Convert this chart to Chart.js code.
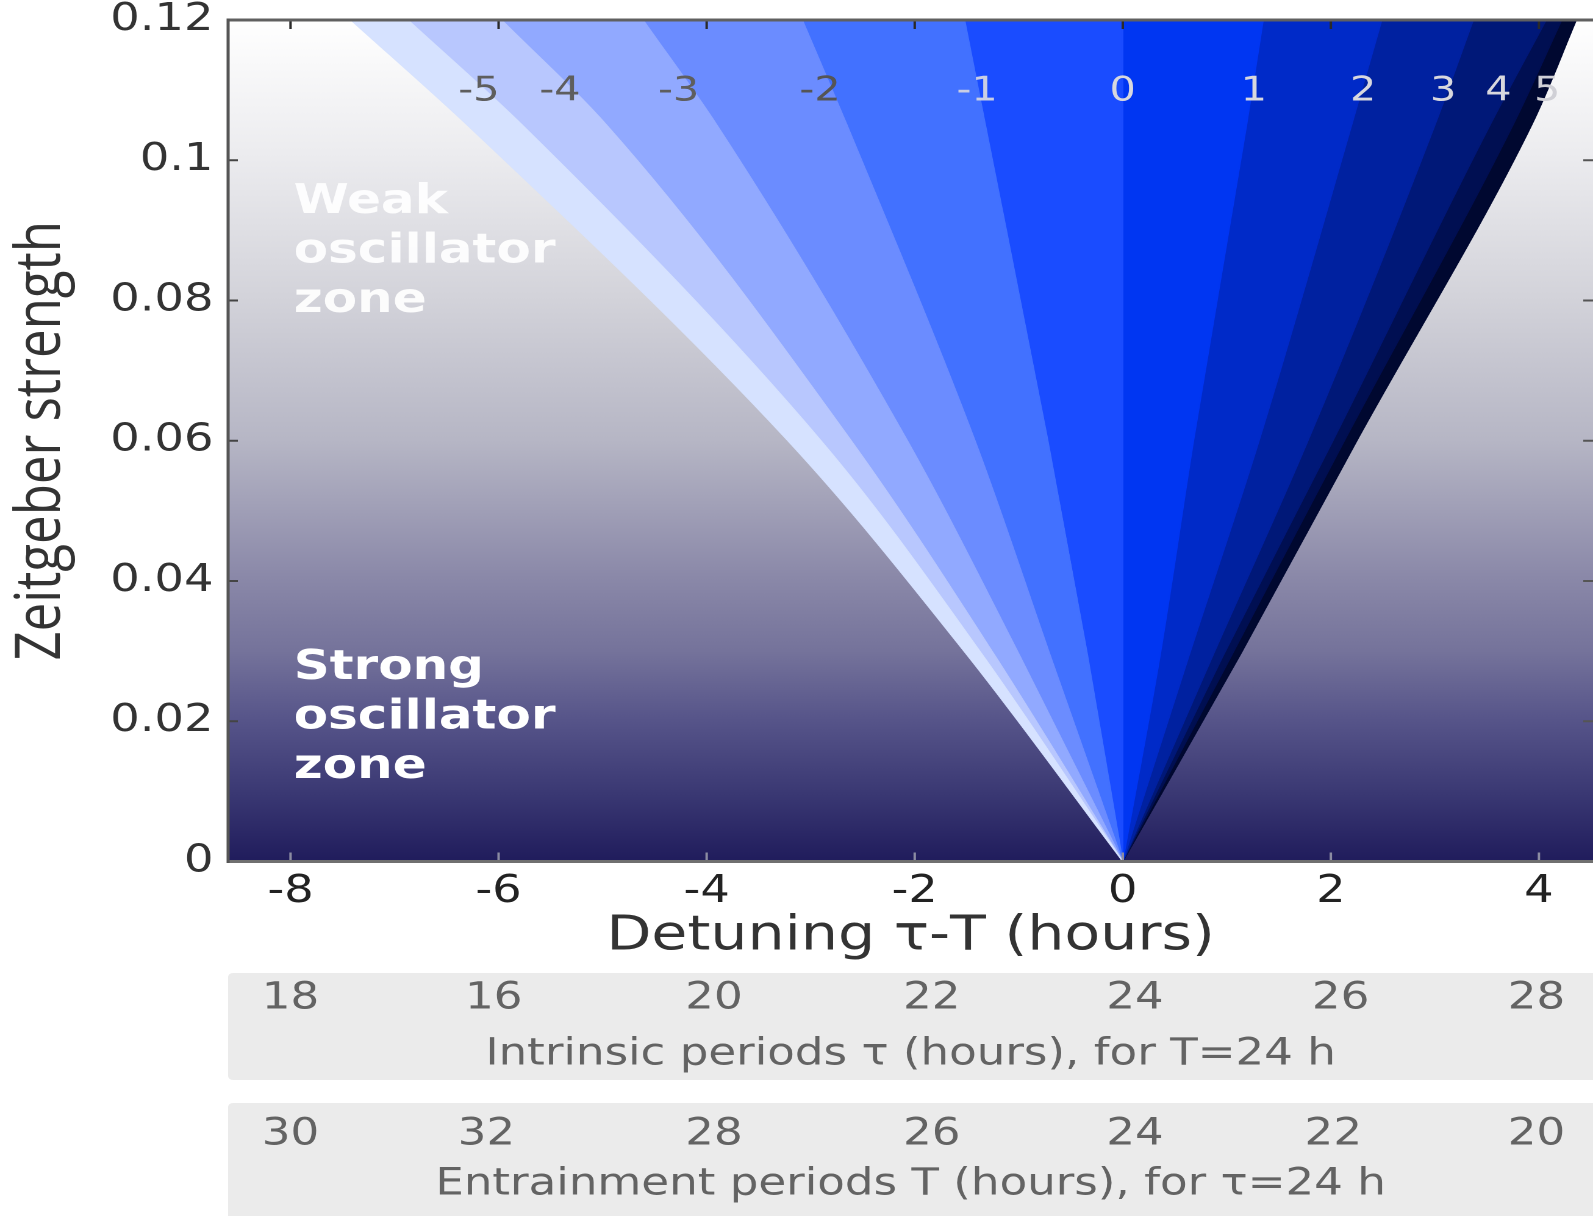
<!DOCTYPE html>
<html>
<head>
<meta charset="utf-8">
<title>Entrainment phase map</title>
<script src="https://cdn.jsdelivr.net/npm/chart.js@4.4.1/dist/chart.umd.min.js"></script>
<style>
  html, body { margin: 0; padding: 0; background: #fff; overflow: hidden; }
  canvas { display: block; }
</style>
</head>
<body>
<!-- drawn at 1306 wide, then widened to 1593 like the original figure -->
<canvas id="phaseMap" width="1306" height="1216" style="width:1593px;height:1216px"></canvas>
<script>
// --------------------------------------------------
//  Phase of entrainment vs detuning / zeitgeber strength
// --------------------------------------------------

/* ----------  DATA  ---------- */
// zeitgeber strengths where every contour was sampled
const strength = [0, 0.0295, 0.06, 0.105, 0.12];

// detuning (hours) of each contour at those strengths, left to right
const edgeLeft  = [0, -1.50, -3.22, -6.30, -7.42];
const phaseM5   = [0, -1.35, -2.90, -5.77, -6.87];
const phaseM4   = [0, -1.235, -2.61, -4.96, -5.97];
const phaseM3   = [0, -0.995, -2.07, -3.90, -4.61];
const phaseM2   = [0, -0.70, -1.42, -2.65, -3.08];
const phaseM1   = [0, -0.34, -0.72, -1.32, -1.52];
const phase0    = [0, 0, 0, 0, 0];
const phaseP1   = [0, 0.36, 0.68, 1.19, 1.35];
const phaseP2   = [0, 0.64, 1.31, 2.20, 2.49];
const phaseP3   = [0, 0.87, 1.78, 3.00, 3.37];
const phaseP4   = [0, 0.97, 2.02, 3.53, 4.07];
const phaseP5   = [0, 1.05, 2.13, 3.75, 4.22];
const edgeRight = [0, 1.13, 2.25, 3.93, 4.36];

const contours = [edgeLeft, phaseM5, phaseM4, phaseM3, phaseM2, phaseM1,
                  phase0, phaseP1, phaseP2, phaseP3, phaseP4, phaseP5, edgeRight];

// contour labels (phase, hours) and where they sit
const phaseLabels  = ['-5', '-4', '-3', '-2', '-1', '0', '1', '2', '3', '4', '5'];
const phaseLabelX  = [-6.19, -5.41, -4.27, -2.91, -1.40, 0, 1.26, 2.31, 3.08, 3.61, 4.08];
const phaseLabelY  = 0.1098;

// period tables under the x axis
const detuningTicks      = [-8, -6, -4, -2, 0, 2, 4];
const intrinsicPeriods   = ['18', '16', '20', '22', '24', '26', '28'];
const entrainmentPeriods = ['30', '32', '28', '26', '24', '22', '20'];

/* ----------  STYLE  ---------- */
const bandColors = ['#d6e2ff', '#b8c7fe', '#91a9ff', '#6b8cff', '#4271ff', '#1a4cff',
                    '#0036f2', '#002ac8', '#0021a0', '#001878', '#000f52', '#000830'];
const labelColors = ['#5e5e5e', '#5e5e5e', '#5e5e5e', '#555555', '#c9cee4',
                     '#d8d8de', '#d8d8de', '#d8d8de', '#d8d8de', '#d8d8de', '#d0d0d6'];
const bgStops = [[0, '#ffffff'], [0.16, '#ececef'], [0.33, '#d3d3da'], [0.5, '#b6b6c5'],
                 [0.66, '#8b89a9'], [0.75, '#75739b'], [0.83, '#57558a'], [0.92, '#3a3873'], [1, '#201c5c']];
// hand placement of the table numbers (px, relative to their tick)
const nudgeIntrinsic   = [0, -4, 6, 14, 10, 8, -2];
const nudgeEntrainment = [0, -10, 6, 14, 10, 2, -2];
const FONT = 'DejaVu Sans';

/* ----------  CONTOUR LINES, each one filled back to its left neighbour  ---------- */
const contourDatasets = contours.map((xs, i) => ({
  data: xs.map((x, k) => ({ x, y: strength[k] })),
  indexAxis: 'y',
  showLine: true,
  cubicInterpolationMode: 'monotone',
  fill: i === 0 ? false : '-1',
  backgroundColor: i === 0 ? 'rgba(0,0,0,0)' : bandColors[i - 1],
  borderColor: bandColors[Math.max(i - 1, 0)],
  borderWidth: 1,
  pointRadius: 0
}));

/* ----------  PLUGINS  ---------- */
const backdrop = {
  id: 'backdrop',
  beforeDatasetsDraw(chart) {
    const { ctx, chartArea: a } = chart;
    const g = ctx.createLinearGradient(0, a.top, 0, a.bottom);
    bgStops.forEach(([p, c]) => g.addColorStop(p, c));
    ctx.save();
    ctx.fillStyle = g;
    ctx.fillRect(a.left, a.top, a.right - a.left, a.bottom - a.top);
    ctx.restore();
  }
};

const frame = {
  id: 'frame',
  afterDatasetsDraw(chart) {
    const { ctx, chartArea: a, scales: { x, y } } = chart;
    const seg = (x1, y1, x2, y2) => { ctx.beginPath(); ctx.moveTo(x1, y1); ctx.lineTo(x2, y2); ctx.stroke(); };
    ctx.save();

    // ticks point inwards on all four sides
    ctx.lineWidth = 2;
    x.ticks.forEach(t => {
      const px = x.getPixelForValue(t.value);
      ctx.strokeStyle = '#2a2a2a'; seg(px, a.top, px, a.top + 9);
      ctx.strokeStyle = '#8c8ca2'; seg(px, a.bottom, px, a.bottom - 9);
    });
    y.ticks.forEach(t => {
      const py = y.getPixelForValue(t.value);
      ctx.strokeStyle = '#444'; seg(a.left, py, a.left + 8, py);
      ctx.strokeStyle = '#555'; seg(a.right, py, a.right - 8, py);
    });

    // box: top, left, bottom
    ctx.lineWidth = 3;
    ctx.strokeStyle = '#606060'; seg(a.left, a.top, a.right, a.top);
    ctx.strokeStyle = '#707070'; seg(a.left, a.bottom, a.right, a.bottom);
    ctx.lineWidth = 2.5;
    ctx.strokeStyle = '#555'; seg(a.left, a.top - 1.5, a.left, a.bottom + 1.5);

    // contour labels
    ctx.font = `34px "${FONT}"`;
    ctx.textAlign = 'center';
    ctx.textBaseline = 'middle';
    phaseLabels.forEach((txt, i) => {
      ctx.fillStyle = labelColors[i];
      ctx.fillText(txt, x.getPixelForValue(phaseLabelX[i]), y.getPixelForValue(phaseLabelY));
    });

    // zone captions
    ctx.font = `bold 41px "${FONT}"`;
    ctx.textAlign = 'left';
    ctx.textBaseline = 'alphabetic';
    const zone = (lines, xv, yv, alpha) => {
      ctx.fillStyle = `rgba(255,255,255,${alpha})`;
      const px = x.getPixelForValue(xv), py = y.getPixelForValue(yv);
      lines.forEach((l, k) => ctx.fillText(l, px, py + k * 49.5));
    };
    zone(['Weak', 'oscillator', 'zone'], -7.97, 0.0925, 0.92);
    zone(['Strong', 'oscillator', 'zone'], -7.97, 0.0260, 1);

    ctx.restore();
  }
};

const periodTables = {
  id: 'periodTables',
  afterDraw(chart) {
    const { ctx, chartArea: a, scales: { x }, width } = chart;
    const rows = [
      { top: 973,  bottom: 1080, numY: 26, capY: 82, values: intrinsicPeriods,   nudge: nudgeIntrinsic,
        caption: 'Intrinsic periods τ (hours), for T=24 h' },
      { top: 1103, bottom: 1226, numY: 32, capY: 82, values: entrainmentPeriods, nudge: nudgeEntrainment,
        caption: 'Entrainment periods T (hours), for τ=24 h' }
    ];
    ctx.save();
    rows.forEach(r => {
      ctx.fillStyle = '#ebebeb';
      ctx.beginPath();
      ctx.roundRect(a.left, r.top, width - a.left + 6, r.bottom - r.top, 4);
      ctx.fill();

      ctx.fillStyle = '#636363';
      ctx.font = `37px "${FONT}"`;
      ctx.textAlign = 'center';
      ctx.textBaseline = 'middle';
      r.values.forEach((v, i) =>
        ctx.fillText(v, x.getPixelForValue(detuningTicks[i]) + r.nudge[i], r.top + r.numY));
      ctx.fillText(r.caption, (a.left + a.right) / 2, r.top + r.capY);
    });
    ctx.restore();
  }
};

/* ----------  CHART  ---------- */
new Chart(document.getElementById('phaseMap'), {
  type: 'scatter',
  data: { datasets: contourDatasets },
  options: {
    responsive: false,
    devicePixelRatio: 2,
    animation: false,
    events: [],
    layout: { padding: { top: 20, left: 0, right: 0, bottom: 0 } },
    plugins: { legend: { display: false }, tooltip: { enabled: false } },
    scales: {
      x: {
        type: 'linear',
        min: -8.6,
        max: 4.52,
        afterFit: s => { s.height = 354.5; s.paddingLeft = 0; s.paddingRight = 0; },
        grid: { display: false, drawTicks: false },
        border: { display: false },
        afterBuildTicks: s => { s.ticks = detuningTicks.map(v => ({ value: v })); },
        ticks: {
          padding: 8,
          color: '#222',
          maxRotation: 0,
          autoSkip: false,
          font: { family: FONT, size: 38 },
          callback: v => String(v)
        },
        title: {
          display: true,
          text: 'Detuning τ-T (hours)',
          color: '#333',
          font: { family: FONT, size: 48 },
          padding: { top: 0, bottom: 250 }
        }
      },
      y: {
        type: 'linear',
        min: 0,
        max: 0.12,
        afterFit: s => { s.width = 187; s.paddingTop = 0; s.paddingBottom = 0; },
        grid: { display: false, drawTicks: false },
        border: { display: false },
        ticks: {
          stepSize: 0.02,
          padding: 12,
          color: '#333',
          font: { family: FONT, size: 38 },
          callback: v => String(+v.toFixed(2))
        },
        title: {
          display: true,
          text: 'Zeitgeber strength',
          color: '#333',
          font: { family: 'Open Sans', size: 51 },
          padding: { top: 4, bottom: 0 }
        }
      }
    }
  },
  plugins: [backdrop, frame, periodTables]
});
</script>
</body>
</html>
